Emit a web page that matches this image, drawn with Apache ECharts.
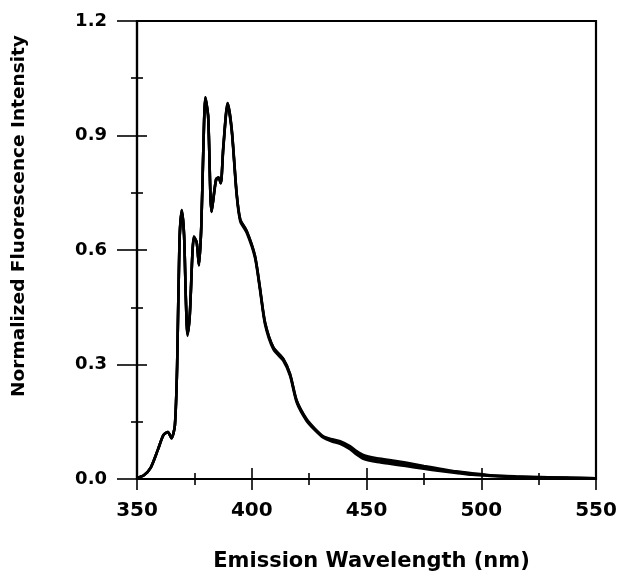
<!DOCTYPE html>
<html>
<head>
<meta charset="utf-8">
<script src="https://cdn.jsdelivr.net/npm/echarts@6/dist/echarts.min.js"></script>
<style>
  html, body { margin: 0; padding: 0; background: #fff; }
  #chart { width: 620px; height: 581px; }
</style>
</head>
<body>
<div id="chart"></div>
<script>
// wavelengths (nm)
const wavelengths = [350, 353, 356, 359, 361.5, 363.5, 365, 366.5, 367.5, 368.5, 369.5, 370.5, 371.3, 372, 373, 374.8, 376, 377, 378, 378.8, 379.8, 381, 382.5, 384.4, 385.5, 386.5, 387.6, 389.5, 391.3, 393.4, 395, 397.8, 401.4, 403.6, 405.8, 409.4, 413.7, 416.7, 419.6, 423.9, 427.5, 431.2, 435, 438.5, 442.8, 445.5, 448.6, 454, 460, 467, 475, 482, 489, 496, 504, 515, 526, 538, 550];

// three overlapping spectra, they only part a little in the tail
const spectrumA = [0.003, 0.01, 0.03, 0.075, 0.115, 0.123, 0.107, 0.14, 0.30, 0.62, 0.705, 0.64, 0.47, 0.38, 0.43, 0.635, 0.62, 0.56, 0.66, 0.84, 1.0, 0.95, 0.70, 0.785, 0.79, 0.775, 0.87, 0.985, 0.915, 0.75, 0.68, 0.65, 0.585, 0.50, 0.41, 0.345, 0.315, 0.275, 0.205, 0.157, 0.132, 0.112, 0.104, 0.099, 0.086, 0.074, 0.063, 0.055, 0.05, 0.043, 0.034, 0.027, 0.02, 0.015, 0.01, 0.007, 0.005, 0.003, 0.002];
const spectrumB = [0.003, 0.01, 0.03, 0.075, 0.115, 0.123, 0.107, 0.14, 0.30, 0.62, 0.70, 0.64, 0.47, 0.375, 0.43, 0.63, 0.62, 0.56, 0.66, 0.84, 0.995, 0.95, 0.70, 0.78, 0.79, 0.775, 0.865, 0.98, 0.91, 0.745, 0.675, 0.645, 0.58, 0.495, 0.405, 0.34, 0.31, 0.27, 0.2, 0.152, 0.128, 0.108, 0.098, 0.092, 0.078, 0.065, 0.053, 0.045, 0.04, 0.034, 0.027, 0.021, 0.016, 0.011, 0.008, 0.005, 0.004, 0.003, 0.002];
const spectrumC = [0.003, 0.01, 0.03, 0.075, 0.115, 0.123, 0.107, 0.14, 0.30, 0.62, 0.705, 0.64, 0.47, 0.38, 0.43, 0.635, 0.62, 0.56, 0.66, 0.84, 1.0, 0.95, 0.70, 0.785, 0.79, 0.775, 0.87, 0.985, 0.915, 0.75, 0.68, 0.65, 0.585, 0.50, 0.41, 0.345, 0.315, 0.275, 0.205, 0.155, 0.13, 0.11, 0.102, 0.096, 0.082, 0.07, 0.058, 0.05, 0.045, 0.038, 0.03, 0.024, 0.018, 0.013, 0.009, 0.006, 0.004, 0.003, 0.002];

const xTicks = [350, 400, 450, 500, 550];
const yTicks = [0.0, 0.3, 0.6, 0.9, 1.2];

const font = 'DejaVu Sans';

const pairs = (vals) => wavelengths.map((w, i) => [w, vals[i]]);

const lineSeries = (vals) => ({
  type: 'line',
  data: pairs(vals),
  showSymbol: false,
  smooth: 0.25,
  lineStyle: { color: '#000', width: 2.6 },
  xAxisIndex: 0,
  yAxisIndex: 0
});

const chart = echarts.init(document.getElementById('chart'));

const tickStyle = { color: '#000', width: 1.6 };

chart.setOption({
  animation: false,
  grid: {
    left: 137, right: 24, top: 21, bottom: 102,
    show: true, borderColor: '#000', borderWidth: 2.2
  },
  xAxis: [
    {
      type: 'value', min: 350, max: 550, interval: 50,
      name: 'Emission Wavelength (nm)',
      nameLocation: 'middle', nameGap: 72,
      nameTextStyle: { fontFamily: font, fontWeight: 'bold', fontSize: 21, color: '#000', padding: [0, 0, 0, 10] },
      axisLine: { lineStyle: { color: '#000', width: 2.2 } },
      axisTick: { show: true, length: 11, lineStyle: tickStyle },
      minorTick: { show: true, splitNumber: 2, length: 6, lineStyle: tickStyle },
      axisLabel: {
        margin: 22, fontFamily: font, fontWeight: 'bold', fontSize: 20, color: '#000',
        formatter: (v) => xTicks.includes(v) ? String(v) : ''
      },
      splitLine: { show: false }
    },
    {
      // second bottom axis only draws the inner half of the ticks
      type: 'value', min: 350, max: 550, interval: 50, position: 'bottom',
      axisLine: { show: true, lineStyle: { opacity: 0 } },
      axisTick: { show: true, inside: true, length: 11, lineStyle: tickStyle },
      minorTick: { show: true, splitNumber: 2, length: 6, lineStyle: tickStyle },
      axisLabel: { show: false },
      splitLine: { show: false }
    }
  ],
  yAxis: [
    {
      type: 'value', min: 0, max: 1.2, interval: 0.3,
      name: 'Normalized Fluorescence Intensity',
      nameLocation: 'middle', nameGap: 108,
      nameTextStyle: { fontFamily: font, fontWeight: 'bold', fontSize: 18.5, color: '#000', padding: [0, 0, 0, 68] },
      axisLine: { show: true, lineStyle: { color: '#000', width: 2.2 } },
      axisTick: { show: true, length: 20, lineStyle: tickStyle },
      minorTick: { show: true, splitNumber: 2, length: 6, lineStyle: tickStyle },
      axisLabel: {
        margin: 30, fontFamily: font, fontWeight: 'bold', fontSize: 18, color: '#000',
        formatter: (v) => {
          const t = yTicks.find((y) => Math.abs(y - v) < 1e-6);
          return t === undefined ? '' : t.toFixed(1);
        }
      },
      splitLine: { show: false }
    },
    {
      type: 'value', min: 0, max: 1.2, interval: 0.3, position: 'left',
      axisLine: { show: true, lineStyle: { opacity: 0 } },
      axisTick: { show: true, inside: true, length: 10, lineStyle: tickStyle },
      minorTick: { show: true, splitNumber: 2, length: 6, lineStyle: tickStyle },
      axisLabel: { show: false },
      splitLine: { show: false }
    }
  ],
  series: [lineSeries(spectrumA), lineSeries(spectrumB), lineSeries(spectrumC)]
});
</script>
</body>
</html>
